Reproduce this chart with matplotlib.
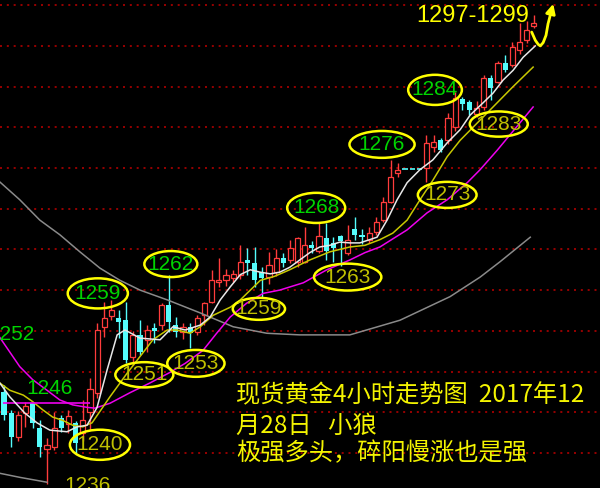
import numpy as np
import matplotlib.pyplot as plt
from matplotlib.patches import Ellipse

# 4h candles (price)
opens = [1247.5, 1244.9, 1242.0, 1244.9, 1246.1, 1243.1, 1240.5, 1240.7, 1244.3, 1243.5,
         1243.7, 1242.4, 1245.0, 1247.3, 1255.5, 1256.8, 1256.6, 1256.3, 1251.8, 1254.5,
         1253.9, 1255.4, 1255.7, 1258.2, 1255.7, 1254.8, 1255.5, 1254.9, 1256.9, 1258.5,
         1261.0, 1261.3, 1261.5, 1261.9, 1263.7, 1263.3, 1262.2, 1261.6, 1262.2, 1263.9,
         1263.7, 1263.5, 1263.5, 1265.5, 1264.8, 1266.4, 1265.8, 1266.6, 1264.6, 1267.5,
         1266.8, 1266.2, 1267.1, 1268.6, 1270.8, 1274.4, 1274.9, 1274.9, 1274.9, 1275.0,
         1277.6, 1278.4, 1278.4, 1280.0, 1283.5, 1283.1, 1281.6, 1282.5, 1286.0, 1285.6,
         1287.9, 1287.7, 1289.5, 1290.7, 1292.5]
highs = [1248.3, 1245.3, 1245.2, 1246.2, 1246.3, 1244.0, 1241.8, 1245.0, 1244.7, 1245.3,
         1243.9, 1246.5, 1249.2, 1256.0, 1258.6, 1258.8, 1257.5, 1258.5, 1255.0, 1256.3,
         1255.7, 1256.0, 1258.4, 1261.8, 1256.7, 1256.0, 1256.0, 1257.0, 1258.6, 1262.5,
         1264.0, 1262.6, 1262.5, 1265.5, 1265.2, 1265.3, 1262.8, 1264.7, 1265.0, 1264.5,
         1266.2, 1266.5, 1267.8, 1266.0, 1268.4, 1268.2, 1266.5, 1266.8, 1268.0, 1269.0,
         1267.5, 1267.8, 1269.0, 1271.4, 1276.0, 1275.6, 1274.9, 1274.9, 1274.9, 1279.1,
         1279.1, 1278.7, 1281.8, 1284.3, 1283.7, 1283.4, 1283.2, 1286.4, 1286.4, 1288.2,
         1288.9, 1290.5, 1292.8, 1293.0, 1293.8]
lows = [1244.0, 1240.7, 1241.5, 1243.2, 1243.1, 1239.5, 1236.2, 1240.4, 1242.6, 1242.5,
        1240.0, 1241.5, 1242.8, 1246.7, 1254.2, 1256.3, 1254.1, 1251.0, 1250.8, 1252.0,
        1252.4, 1253.5, 1255.1, 1254.9, 1254.2, 1254.0, 1252.9, 1254.5, 1255.7, 1258.4,
        1260.4, 1260.5, 1261.0, 1261.4, 1261.9, 1260.4, 1259.0, 1260.8, 1261.7, 1262.8,
        1263.3, 1262.8, 1263.3, 1264.6, 1264.5, 1263.7, 1263.5, 1263.0, 1264.3, 1266.2,
        1265.7, 1265.8, 1266.8, 1268.4, 1270.7, 1273.9, 1274.9, 1274.9, 1274.9, 1273.3,
        1277.0, 1277.0, 1278.0, 1279.5, 1282.1, 1281.5, 1281.3, 1282.1, 1283.4, 1285.4,
        1286.8, 1287.4, 1289.0, 1290.4, 1292.2]
closes = [1244.7, 1242.0, 1244.7, 1245.8, 1243.7, 1240.7, 1241.0, 1243.1, 1243.1, 1244.5,
          1241.2, 1244.0, 1247.9, 1255.1, 1256.6, 1257.5, 1256.1, 1251.4, 1254.5, 1252.4,
          1255.1, 1255.0, 1258.2, 1256.1, 1254.8, 1255.5, 1254.7, 1256.6, 1258.4, 1261.2,
          1261.3, 1261.9, 1262.0, 1263.5, 1263.3, 1261.2, 1261.5, 1263.1, 1263.9, 1263.3,
          1265.2, 1266.4, 1265.5, 1265.2, 1266.6, 1264.8, 1265.2, 1266.0, 1266.2, 1266.8,
          1266.5, 1267.0, 1268.4, 1270.8, 1273.9, 1274.8, 1274.9, 1274.9, 1274.9, 1278.1,
          1278.2, 1277.2, 1281.1, 1283.6, 1282.9, 1282.1, 1282.4, 1286.0, 1284.8, 1287.9,
          1287.0, 1289.9, 1290.5, 1292.0, 1292.8]

# moving averages (bar position, price)
ma_white_x = [-0.6, 0.8, 2.9, 4.6, 6.4, 8.8, 10.2, 11.6, 13.0, 14.4, 15.8, 16.9, 19.0, 21.8,
              23.6, 25.3, 27.4, 28.8, 30.2, 31.6, 33.0, 34.4, 35.8, 37.2, 38.5, 39.9, 41.3,
              42.7, 44.1, 45.5, 46.9, 48.3, 49.7, 52.1, 53.5, 54.9, 56.3, 58.1, 59.9, 61.9,
              63.7, 65.1, 66.9, 68.3, 69.7, 71.1, 72.5, 74.2]
ma_white = [1248.6, 1246.9, 1244.9, 1243.7, 1242.8, 1242.6, 1243.2, 1243.4, 1245.6, 1250.2,
            1254.5, 1255.1, 1254.1, 1253.9, 1255.5, 1255.1, 1255.7, 1256.7, 1258.8, 1260.4,
            1261.9, 1262.5, 1262.2, 1262.0, 1262.2, 1262.8, 1263.7, 1264.6, 1265.3, 1265.5,
            1265.9, 1265.8, 1265.8, 1266.5, 1268.6, 1271.1, 1273.2, 1274.8, 1276.0, 1278.1,
            1279.7, 1281.5, 1283.0, 1284.2, 1285.8, 1287.0, 1288.6, 1290.0]
ma_yellow_x = [-0.6, 0.8, 2.7, 4.0, 5.4, 6.8, 8.2, 9.6, 11.0, 12.3, 14.8, 17.2, 19.4, 20.8,
               22.8, 24.2, 26.0, 27.4, 29.2, 31.6, 33.0, 34.4, 35.8, 37.8, 39.9, 42.7, 45.5,
               48.3, 50.4, 52.5, 54.3, 56.3, 58.1, 59.9, 61.9, 63.7, 65.5, 68.3, 71.1, 73.9]
ma_yellow = [1248.6, 1247.7, 1247.1, 1246.3, 1245.3, 1244.4, 1244.0, 1243.4, 1243.2, 1243.7,
             1246.9, 1249.8, 1252.3, 1253.9, 1255.1, 1255.1, 1254.7, 1255.5, 1256.9, 1257.9,
             1258.8, 1260.0, 1261.2, 1261.7, 1262.5, 1263.7, 1264.7, 1265.3, 1265.5, 1266.2,
             1267.0, 1268.6, 1271.1, 1273.5, 1276.4, 1278.4, 1280.0, 1282.5, 1285.0, 1287.4]
ma_pink_x = [-0.6, 0.8, 2.2, 4.0, 6.0, 7.8, 9.6, 11.6, 12.7, 14.8, 17.6, 20.4, 23.2, 25.3,
             27.8, 29.7, 31.6, 33.9, 36.2, 38.5, 41.8, 45.1, 48.3, 50.4, 52.5, 56.3, 59.1,
             61.9, 64.7, 66.5, 68.9, 73.9]
ma_pink = [1254.2, 1252.4, 1250.6, 1249.0, 1247.7, 1246.5, 1245.9, 1245.6, 1245.5, 1246.1,
           1247.4, 1248.6, 1249.9, 1251.0, 1252.6, 1254.7, 1256.7, 1258.4, 1259.6, 1260.0,
           1260.9, 1262.5, 1263.7, 1264.6, 1265.3, 1267.4, 1269.5, 1271.1, 1273.2, 1274.8,
           1277.2, 1282.5]
ma_gray_x = [-0.6, 2.2, 5.0, 7.8, 10.6, 13.4, 16.2, 19.0, 22.8, 27.4, 32.0, 36.7, 41.3, 48.3,
             55.3, 62.3, 66.5, 69.3, 73.5]
ma_gray = [1273.3, 1271.1, 1268.6, 1266.8, 1264.7, 1262.7, 1261.2, 1260.0, 1258.8, 1257.2,
           1255.5, 1254.7, 1254.5, 1254.5, 1256.3, 1259.2, 1261.6, 1263.5, 1266.5]
ma_long_x = [-0.6, 2.2, 6.0]
ma_long = [1237.5, 1237.0, 1236.4]
support_1246 = 1246.1

# marked highs / lows: (text, bar, price, ellipse w, ellipse h)
high_marks = [("1259", 13.1, 1259.6, 8.4, 3.7), ("1262", 23.3, 1263.2, 7.4, 3.2),
              ("1268", 43.6, 1270.1, 8.1, 3.7), ("1276", 52.8, 1277.9, 9.1, 3.3),
              ("1284", 60.2, 1284.6, 7.5, 3.7)]
low_marks = [("1240", 13.4, 1241.0, 8.4, 3.7), ("1251", 19.6, 1249.6, 8.1, 3.1),
             ("1253", 26.8, 1251.0, 8.0, 3.3), ("1259", 35.6, 1257.7, 7.3, 2.7),
             ("1263", 48.0, 1261.6, 9.4, 3.3), ("1273", 61.9, 1271.7, 8.2, 3.2),
             ("1283", 69.1, 1280.4, 8.1, 3.1)]

RED = '#ff3c3c'
CYAN = '#54fcfc'
GREEN = '#00d400'
OLIVE = '#c0c000'

o = np.array(opens); h = np.array(highs); l = np.array(lows); c = np.array(closes)
x = np.arange(len(o))
up = c > o
dn = c < o
flat = c == o

fig = plt.figure(figsize=(6, 4.88), dpi=100, facecolor='black')
ax = fig.add_axes([0, 0, 1, 1])
ax.set_facecolor('black')
ax.set_xlim(-0.56, 83.24)
ax.set_ylim(1235.69, 1295.64)
ax.axis('off')

for p in np.arange(1240, 1296, 5):
    ax.axhline(p, color='#b00000', lw=1.2, ls=(0, (1.2, 2.9)), zorder=1)

w = 0.72
# rising candles: hollow red
ax.vlines(x[up], c[up], h[up], color=RED, lw=1, zorder=2)
ax.vlines(x[up], l[up], o[up], color=RED, lw=1, zorder=2)
ax.bar(x[up], c[up] - o[up], bottom=o[up], width=w, facecolor='black',
       edgecolor=RED, lw=0.9, zorder=3)
# falling candles: solid cyan
ax.vlines(x[dn], l[dn], h[dn], color=CYAN, lw=1, zorder=2)
ax.bar(x[dn], o[dn] - c[dn], bottom=c[dn], width=w, color=CYAN, lw=0, zorder=3)
# no-trade bars
ax.hlines(o[flat], x[flat] - w / 2, x[flat] + w / 2, color=CYAN, lw=1.2, zorder=3)

ax.plot(ma_gray_x, ma_gray, color='#8a8a8a', lw=1.1, zorder=4)
ax.plot(ma_long_x, ma_long, color='#8a8a8a', lw=1.1, zorder=4)
ax.plot(ma_pink_x, ma_pink, color='#ee00ee', lw=1.1, zorder=4)
ax.plot(ma_yellow_x, ma_yellow, color='#c8c800', lw=1.1, zorder=4)
ax.plot(ma_white_x, ma_white, color='#e8e8e8', lw=1.1, zorder=5)
ax.hlines(support_1246, -0.2, 12.0, color='#ee00ee', lw=1.2, zorder=4)

lab = dict(family='Liberation Sans', fontsize=15, ha='center', va='center', zorder=7)
for txt, bx, py, ew, eh in high_marks:
    ax.add_patch(Ellipse((bx, py), ew, eh, fill=False, ec='#ffff00', lw=1.8, zorder=6))
    ax.text(bx, py, txt, color=GREEN, **lab)
for txt, bx, py, ew, eh in low_marks:
    ax.add_patch(Ellipse((bx, py), ew, eh, fill=False, ec='#ffff00', lw=1.8, zorder=6))
    ax.text(bx, py, txt, color=OLIVE, **lab)
# these two sit on the chart edges, cut off as in the source picture
ax.text(-2.2, 1254.6, "1252", color=GREEN, family='Liberation Sans', fontsize=15,
        ha='left', va='center', zorder=7)
ax.text(6.3, 1247.9, "1246", color=GREEN, **lab)
ax.text(11.6, 1236.0, "1236", color=OLIVE, **lab)

# target
ax.text(65.4, 1293.7, "1297-1299", color='#ffff00', family='Liberation Sans',
        fontsize=17, ha='center', va='center', zorder=7)
ax.plot([73.7, 74.2, 74.6, 74.9, 75.3, 75.7, 76.0], [1291.7, 1290.7, 1290.2, 1290.0, 1290.4, 1291.3, 1292.8],
        color='#ffff00', lw=2, solid_capstyle='round', zorder=7)
ax.annotate('', xy=(76.8, 1295.5), xytext=(75.95, 1292.6),
            arrowprops=dict(arrowstyle='-|>', color='#ffff00', lw=2, mutation_scale=14), zorder=7)

cjk = ['Noto Sans CJK SC', 'DejaVu Sans']
note = dict(family=cjk, fontsize=17.5, color='#f4f400', ha='left', va='center', transform=ax.transAxes)
ax.text(0.393, 0.189, "现货黄金4小时走势图  2017年12", **note)
ax.text(0.393, 0.127, "月28日   小狼", **note)
ax.text(0.393, 0.071, "极强多头，碎阳慢涨也是强", **note)

fig.savefig('out.png', dpi=100, facecolor='black')
